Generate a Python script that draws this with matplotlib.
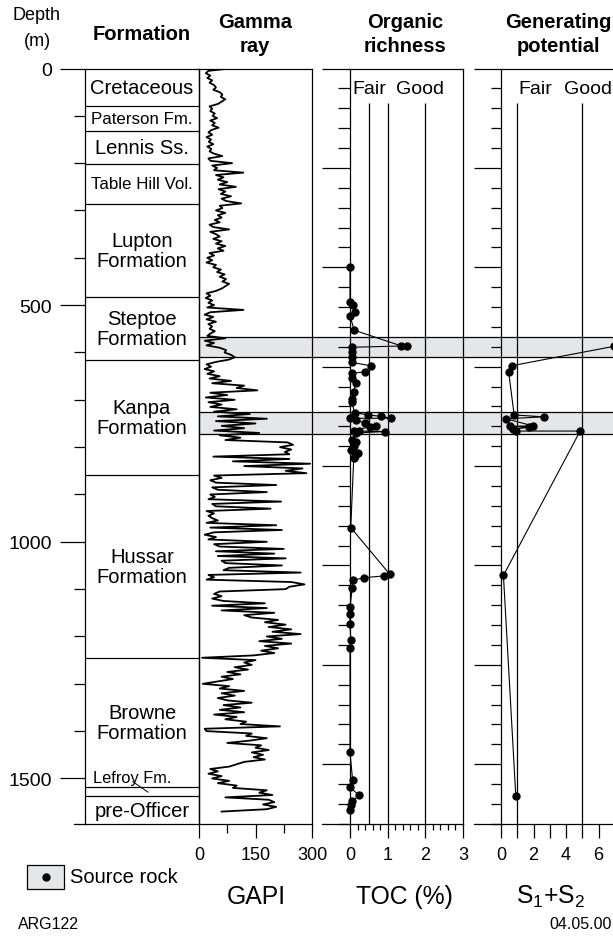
import numpy as np
import matplotlib.pyplot as plt
import matplotlib.transforms as mtransforms
from matplotlib.lines import Line2D
from matplotlib.patches import Rectangle

plt.rcParams['font.family'] = ['Liberation Sans', 'DejaVu Sans']
plt.rcParams['mathtext.fontset'] = 'custom'
plt.rcParams['mathtext.rm'] = 'Liberation Sans'
plt.rcParams['mathtext.it'] = 'Liberation Sans:italic'

# ---- data (depth in m) ----
formation_tops = [0, 79, 131, 202, 286, 482, 616, 858, 1245, 1519, 1538]
formation_names = ['Cretaceous', 'Paterson Fm.', 'Lennis Ss.', 'Table Hill Vol.',
                   'Lupton\nFormation', 'Steptoe\nFormation', 'Kanpa\nFormation',
                   'Hussar\nFormation', 'Browne\nFormation', '', 'pre-Officer']
small_names = ['Paterson Fm.', 'Table Hill Vol.']

source_rock = [(568, 610), (725, 772)]

# gamma ray, GAPI, one reading every 5 m from 0 m
gr_api = [
    80, 25, 18, 30, 22, 35, 28, 40, 45, 38, 55, 62, 58, 70, 60, 50, 28, 35, 30, 42,
    36, 48, 30, 42, 35, 52, 33, 25, 35, 20, 32, 26, 38, 22, 33, 28, 40, 62, 25, 30,
    88, 35, 48, 40, 118, 45, 65, 50, 75, 55, 98, 52, 70, 58, 85, 60, 72, 112, 55, 62,
    45, 70, 50, 60, 42, 55, 28, 38, 80, 30, 45, 55, 38, 60, 45, 70, 50, 65, 28, 40,
    22, 35, 20, 45, 38, 58, 48, 68, 55, 72, 62, 80, 70, 60, 45, 20, 30, 18, 35, 25,
    40, 22, 118, 30, 15, 38, 20, 45, 25, 35, 28, 42, 30, 22, 70, 15, 40, 20, 55, 72,
    68, 85, 95, 80, 45, 20, 32, 15, 40, 22, 55, 28, 85, 35, 120, 100, 155, 30, 75, 18,
    95, 25, 60, 30, 100, 40, 135, 50, 180, 45, 150, 60, 120, 40, 160, 55, 110, 70, 235, 250,
    215, 245, 228, 240, 38, 240, 90, 295, 120, 275, 230, 285, 40, 60, 30, 45, 205, 35, 50, 180,
    30, 42, 25, 218, 35, 45, 190, 20, 40, 25, 35, 50, 20, 205, 30, 220, 40, 15, 45, 25,
    180, 40, 55, 225, 45, 200, 50, 230, 60, 70, 220, 80, 65, 270, 25, 40, 20, 245, 280, 240,
    230, 55, 40, 60, 35, 65, 175, 35, 180, 60, 200, 120, 140, 210, 175, 230, 185, 245, 195, 270,
    180, 220, 160, 245, 175, 210, 165, 200, 145, 8, 150, 120, 140, 95, 130, 75, 110, 60, 90, 50,
    10, 80, 55, 120, 60, 95, 50, 75, 140, 65, 110, 55, 120, 40, 100, 70, 125, 110, 215, 15,
    20, 140, 125, 180, 135, 75, 165, 150, 185, 140, 170, 145, 175, 120, 100, 80, 30, 50, 25, 60,
    35, 80, 50, 100, 90, 180, 160, 195, 70, 185, 200, 170, 205, 180, 60,
]
gr_depth = np.arange(len(gr_api)) * 5

toc_depth = [419, 493, 500, 515, 522, 553, 586, 586, 589, 600, 609, 621, 628, 641, 644,
             654, 665, 683, 698, 705, 727, 732, 735, 739, 739, 742, 750, 756, 757, 765,
             766, 767, 770, 785, 789, 797, 806, 812, 818, 822, 970, 1069, 1072, 1076,
             1081, 1097, 1138, 1152, 1173, 1207, 1224, 1445, 1504, 1519, 1536, 1547,
             1557, 1566]
toc = [0.0, 0.0, 0.08, 0.13, 0.0, 0.11, 1.36, 1.51, 0.05, 0.05, 0.05, 0.05, 0.55, 0.40,
       0.04, 0.04, 0.15, 0.10, 0.05, 0.05, 0.12, 0.49, 0.83, 1.09, 0.0, 0.16, 0.39, 0.68,
       0.52, 0.10, 0.25, 0.93, 0.15, 0.05, 0.15, 0.10, 0.02, 0.20, 0.12, 0.10, 0.02, 1.06,
       0.90, 0.36, 0.09, 0.06, 0.0, 0.0, 0.0, 0.02, 0.0, 0.0, 0.07, 0.0, 0.25, 0.06, 0.03,
       0.0]

s12_depth = [587, 628, 641, 732, 736, 740, 755, 756, 758, 762, 766, 766, 1071, 1537]
s12 = [6.95, 0.66, 0.47, 0.81, 2.65, 0.30, 1.95, 0.53, 1.74, 0.74, 0.95, 4.87, 0.15, 0.91]

# ---- layout (pixels) ----
W, H = 613, 937
DMAX = 1597
Y0 = 69.5
PXM = 0.4733
Y1 = Y0 + DMAX * PXM
LW = 0.9
GREY = '#e5e6e8'


def rect(x0, x1):
    return [x0 / W, 1 - Y1 / H, (x1 - x0) / W, (Y1 - Y0) / H]


def pt(px):
    return px * 0.72


def ftext(x, y, s, **kw):
    fig.text(x / W, 1 - y / H, s, **kw)


def spines(ax):
    for s in ax.spines.values():
        s.set_linewidth(LW)


def extend_left(ax, depth, px, width_px):
    tr = mtransforms.blended_transform_factory(ax.transAxes, ax.transData)
    ax.plot([-px / width_px, 0], [depth, depth], color='k', lw=LW,
            transform=tr, clip_on=False)


fig = plt.figure(figsize=(W / 100, H / 100), dpi=100)

# source rock bands
ax_b = fig.add_axes(rect(199, 613), zorder=0)
ax_b.set_ylim(DMAX, 0)
ax_b.axis('off')
for top, bot in source_rock:
    ax_b.axhspan(top, bot, color=GREY, lw=0)
    ax_b.axhline(top, color='k', lw=LW)
    ax_b.axhline(bot, color='k', lw=LW)

# formation column with depth axis
ax_f = fig.add_axes(rect(85, 199), zorder=2, facecolor='none')
ax_f.set_xlim(0, 1)
ax_f.set_ylim(DMAX, 0)
ax_f.set_xticks([])
ax_f.set_yticks([0, 500, 1000, 1500])
ax_f.set_yticks(np.arange(100, 1600, 100), minor=True)
ax_f.tick_params(axis='y', which='major', length=pt(25), width=LW, pad=pt(8), labelsize=14)
ax_f.tick_params(axis='y', which='minor', length=pt(11), width=LW)
spines(ax_f)
extend_left(ax_f, DMAX, 11, 114)
bounds = formation_tops + [DMAX]
for i, name in enumerate(formation_names):
    if i > 0:
        ax_f.axhline(formation_tops[i], color='k', lw=LW)
    if name:
        fs = 12.2 if name in small_names else 14.5
        ax_f.text(0.5, (bounds[i] + bounds[i + 1]) / 2, name, ha='center', va='center',
                  fontsize=fs, linespacing=1.05)
ax_f.text(0.067, 1497, 'Lefroy Fm.', ha='left', va='center', fontsize=11.8)
ax_f.plot([0.42, 0.553], [1507, 1529], color='k', lw=0.7)

# gamma ray
ax_g = fig.add_axes(rect(199, 312), zorder=2, facecolor='none')
ax_g.set_xlim(0, 300)
ax_g.set_ylim(DMAX, 0)
ax_g.plot(gr_api, gr_depth, color='k', lw=1.3)
ax_g.set_yticks([])
ax_g.set_xticks([0, 150, 300])
ax_g.set_xticks([75, 225], minor=True)
ax_g.tick_params(axis='x', which='major', length=pt(14), width=LW, labelsize=13, pad=pt(8))
ax_g.tick_params(axis='x', which='minor', length=pt(9), width=LW)
spines(ax_g)

# depth ticks used in the geochemistry panels
geo_ticks = np.arange(0, DMAX, 42)

# TOC
ax_t = fig.add_axes(rect(350, 463), zorder=2, facecolor='none')
ax_t.set_xlim(0, 3)
ax_t.set_ylim(DMAX, 0)
ax_t.vlines([0.5, 1, 2], 73, DMAX, color='k', lw=LW)
ax_t.plot(toc, toc_depth, color='k', lw=0.8, marker='o', ms=5, clip_on=False)
ax_t.set_yticks(geo_ticks[::5])
ax_t.set_yticks(geo_ticks, minor=True)
ax_t.set_yticklabels([])
ax_t.tick_params(axis='y', which='major', length=pt(28), width=LW)
ax_t.tick_params(axis='y', which='minor', length=pt(12), width=LW)
ax_t.set_xticks([0, 1, 2, 3])
ax_t.set_xticks(np.arange(0.2, 3, 0.2), minor=True)
ax_t.tick_params(axis='x', which='major', length=pt(14), width=LW, labelsize=13, pad=pt(8))
ax_t.tick_params(axis='x', which='minor', length=pt(6), width=LW)
spines(ax_t)
extend_left(ax_t, DMAX, 28, 113)
ax_t.text(0.5, 43, 'Fair', ha='center', va='center', fontsize=14)
ax_t.text(1.86, 43, 'Good', ha='center', va='center', fontsize=14)

# S1+S2
ax_s = fig.add_axes(rect(501, 663.5), zorder=2, facecolor='none')
ax_s.set_xlim(0, 10)
ax_s.set_ylim(DMAX, 0)
ax_s.vlines([1, 5], 73, DMAX, color='k', lw=LW)
ax_s.plot(s12, s12_depth, color='k', lw=0.8, marker='o', ms=5, clip_on=False)
ax_s.set_yticks(geo_ticks[::5])
ax_s.set_yticks(geo_ticks, minor=True)
ax_s.set_yticklabels([])
ax_s.tick_params(axis='y', which='major', length=pt(27), width=LW)
ax_s.tick_params(axis='y', which='minor', length=pt(10), width=LW)
ax_s.set_xticks(range(10))
ax_s.set_xticklabels(['0', '', '2', '', '4', '', '6', '', '', ''])
ax_s.tick_params(axis='x', which='major', length=pt(14), width=LW, labelsize=13, pad=pt(8))
spines(ax_s)
extend_left(ax_s, DMAX, 27, 162.5)
ax_s.text(2.1, 43, 'Fair', ha='center', va='center', fontsize=14)
ax_s.text(5.35, 43, 'Good', ha='center', va='center', fontsize=14)

# headers
ftext(37, 15, 'Depth', ha='center', va='center', fontsize=13)
ftext(37, 41, '(m)', ha='center', va='center', fontsize=13)
ftext(142, 35, 'Formation', ha='center', va='center', fontsize=14.5, fontweight='bold')
ftext(255, 22, 'Gamma', ha='center', va='center', fontsize=14.5, fontweight='bold')
ftext(255, 47, 'ray', ha='center', va='center', fontsize=14.5, fontweight='bold')
ftext(405, 22, 'Organic', ha='center', va='center', fontsize=14.5, fontweight='bold')
ftext(405, 47, 'richness', ha='center', va='center', fontsize=14.5, fontweight='bold')
ftext(558, 22, 'Generating', ha='center', va='center', fontsize=14.5, fontweight='bold')
ftext(558, 47, 'potential', ha='center', va='center', fontsize=14.5, fontweight='bold')

# axis titles
ftext(256, 897, 'GAPI', ha='center', va='center', fontsize=17.8)
ftext(404, 897, 'TOC (%)', ha='center', va='center', fontsize=17.8)
ftext(551, 897, r'S$_1$+S$_2$', ha='center', va='center', fontsize=17.8)

# legend
fig.add_artist(Rectangle((27 / W, 1 - 890 / H), 37 / W, 24 / H, transform=fig.transFigure,
                         facecolor=GREY, edgecolor='k', lw=LW))
fig.add_artist(Line2D([45.5 / W], [1 - 878 / H], marker='o', ms=5, color='k',
                      transform=fig.transFigure))
ftext(70, 878, 'Source rock', ha='left', va='center', fontsize=14.5)

ftext(18, 925, 'ARG122', ha='left', va='center', fontsize=11.5)
ftext(612, 925, '04.05.00', ha='right', va='center', fontsize=11.5)

fig.savefig('out.png', dpi=100)
